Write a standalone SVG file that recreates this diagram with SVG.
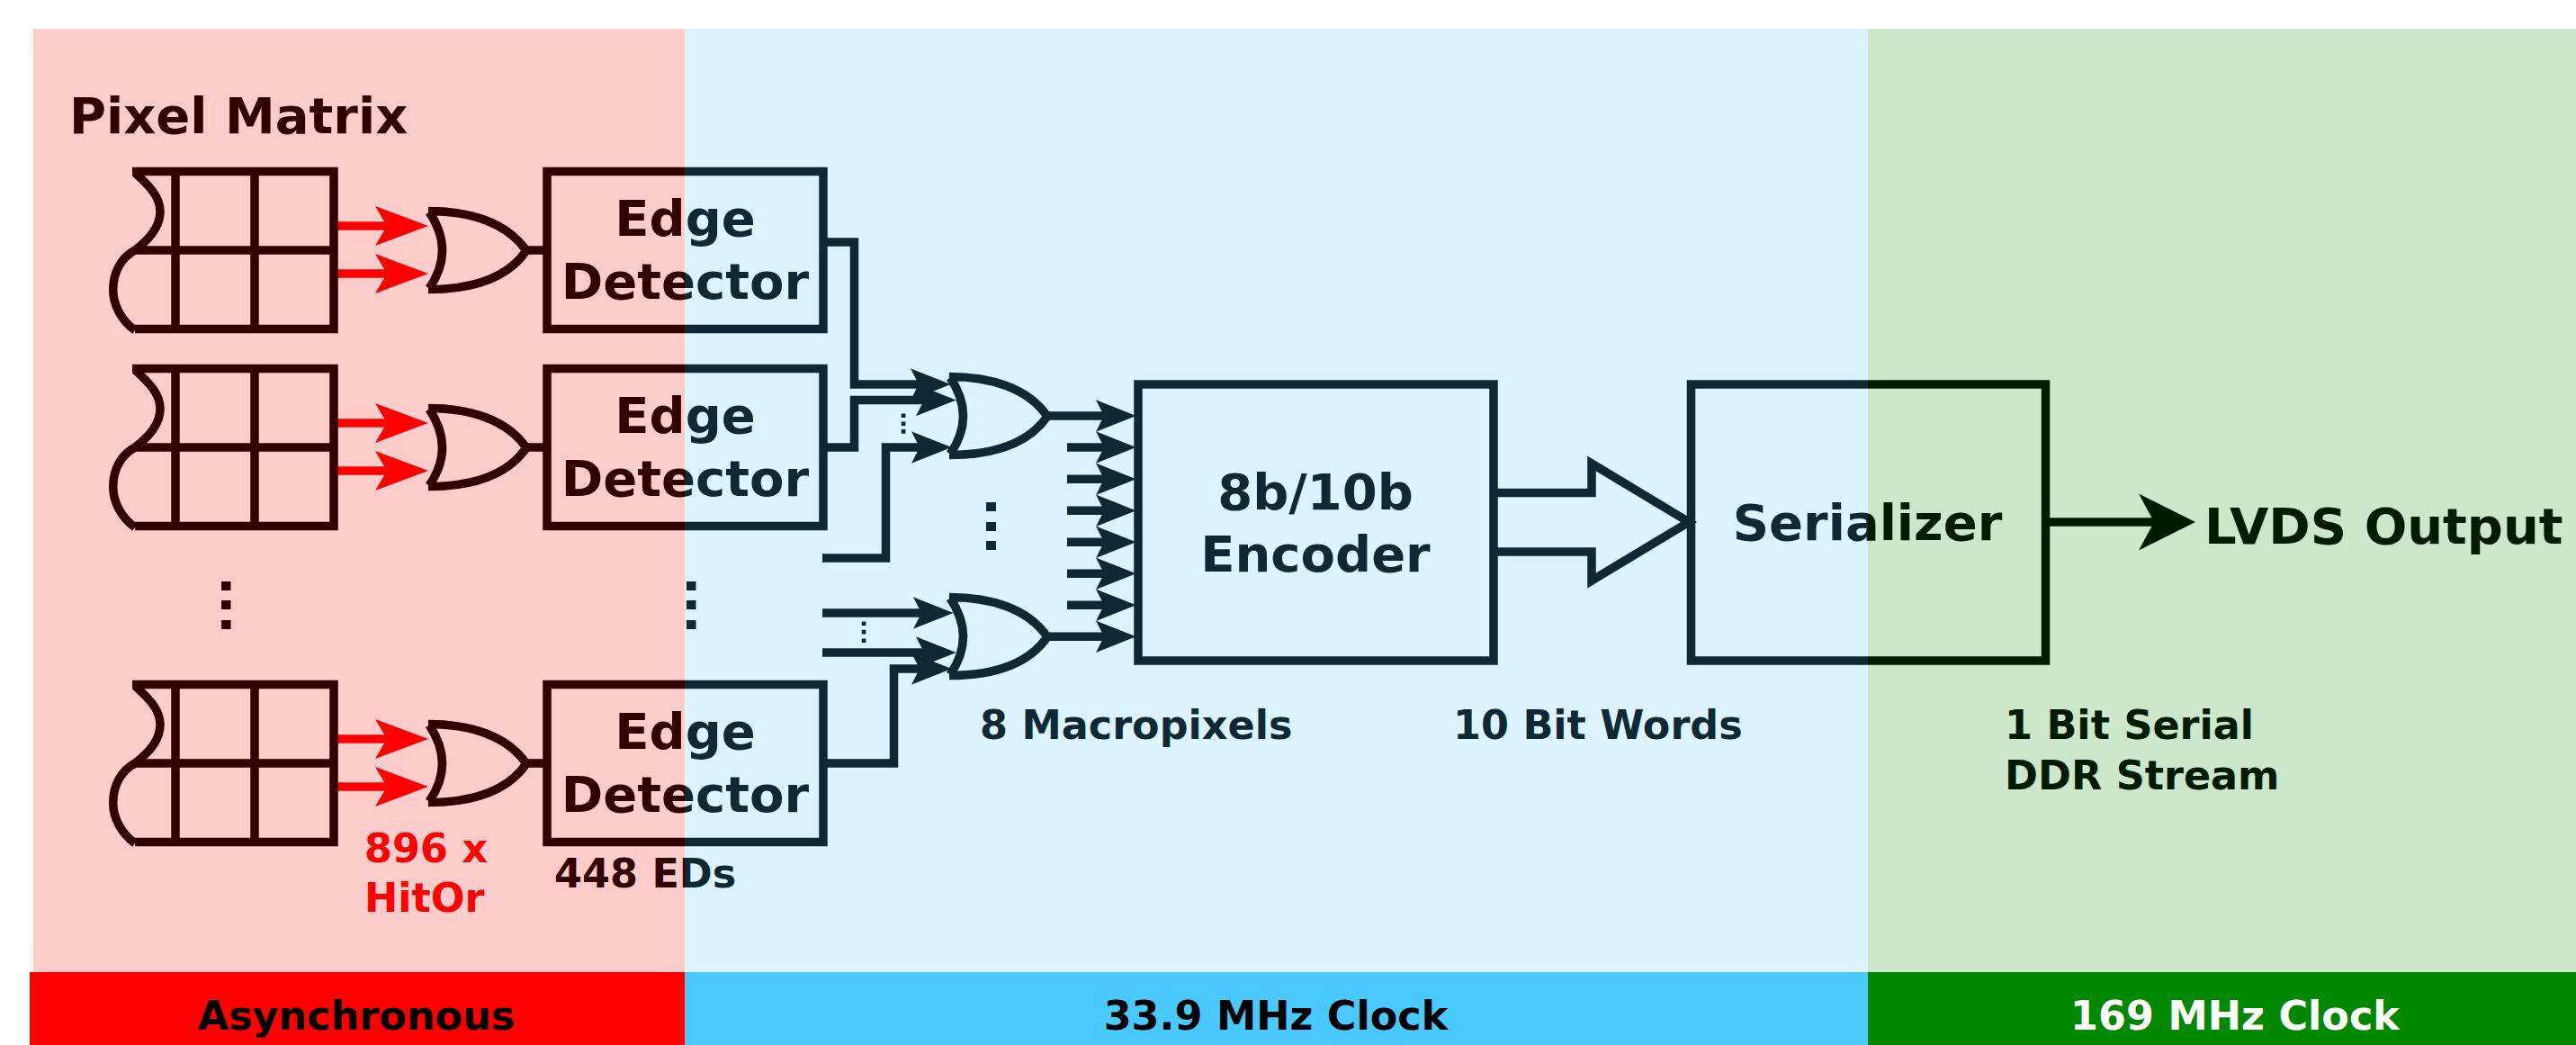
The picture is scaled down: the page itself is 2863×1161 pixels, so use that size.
<svg xmlns="http://www.w3.org/2000/svg" xmlns:xlink="http://www.w3.org/1999/xlink" width="2863" height="1161" viewBox="0 0 2863 1161">
<style>
text{font-family:"DejaVu Sans",sans-serif;font-weight:bold;fill:#000}
.big{font-size:56px}
.mid{font-size:44.500px}
.c{text-anchor:middle}
.red{fill:#f00}
.w{fill:none;stroke:#000;stroke-width:9.500;stroke-linejoin:miter}
.box{fill:none;stroke:#000;stroke-width:9.500}
.ar{marker-end:url(#ah)}
.rw{fill:none;stroke:#f00;stroke-width:9.500;marker-end:url(#rh)}
.ov{opacity:.2}
</style>
<defs>
<marker id="ah" markerUnits="userSpaceOnUse" markerWidth="44.700" markerHeight="35.400" viewBox="0 0 44.700 35.400" refX="13" refY="17.700" orient="auto"><path d="M0 0L44.700 17.700L0 35.400L9 17.700Z" fill="#000"/></marker>
<marker id="rh" markerUnits="userSpaceOnUse" markerWidth="59" markerHeight="44" viewBox="0 0 59 44" refX="18" refY="22" orient="auto"><path d="M0 0L59 22L0 44L13 22Z" fill="#f00"/></marker>
<marker id="oh" markerUnits="userSpaceOnUse" markerWidth="63" markerHeight="63" viewBox="0 0 63 63" refX="23" refY="31.500" orient="auto"><path d="M0 0L63 31.500L0 63L17 31.500Z" fill="#000"/></marker>
<path id="or" class="w" d="M-1 0C44 0 86 12 108 44C86 76 44 87 -1 87M0 1Q29 44 0 86"/>
<g id="matrix">
<path class="box" d="M147 4.500H371V179.500H150M150 92H371M195 4.500V179.500M283 4.500V179.500"/>
<path class="w" d="M150 6C168 22 178 34 178 49C178 66 166 80 150 92C135 100 125.700 116 125.700 136C125.700 153 135 170 150 181"/>
</g>
<g id="ed">
<rect class="box" x="608" y="4.500" width="307" height="175"/>
<text class="big c" x="761.500" y="76">Edge</text>
<text class="big c" x="761.500" y="146">Detector</text>
</g>
</defs>
<g id="connectors">
<path class="rw" d="M371 251H435"/><path class="rw" d="M371 304H435"/>
<path class="rw" d="M371 470H435"/><path class="rw" d="M371 523H435"/>
<path class="rw" d="M371 821H435"/><path class="rw" d="M371 874H435"/>
<path class="w" d="M584 278H606M584 497H606M584 848H606"/>
<path class="w ar" d="M915 269H949.500V427H1025"/>
<path class="w ar" d="M915 497H949.500V444.500H1031"/>
<path class="w ar" d="M914 620H984.500V497H1026"/>
<path class="w ar" d="M914 681H1028"/>
<path class="w ar" d="M914 725H1031"/>
<path class="w ar" d="M915 848H993.500V743H1026"/>
<path class="w ar" d="M1163 462H1231"/>
<path class="w ar" d="M1186 497H1231"/>
<path class="w ar" d="M1186 532.300H1231"/>
<path class="w ar" d="M1186 567.300H1231"/>
<path class="w ar" d="M1186 602.300H1231"/>
<path class="w ar" d="M1186 637.300H1231"/>
<path class="w ar" d="M1186 672.300H1231"/>
<path class="w ar" d="M1163 707.300H1231"/>
<path class="w" d="M1664 547.500H1769V515L1877 580L1769 645V613H1664"/>
<path class="w" style="marker-end:url(#oh)" d="M2277 580H2400"/>
</g>
<g id="pixel-matrix-1"><use href="#matrix" y="186"/></g>
<g id="pixel-matrix-2"><use href="#matrix" y="405"/></g>
<g id="pixel-matrix-3"><use href="#matrix" y="756"/></g>
<g id="or-1"><use href="#or" x="477" y="234.500"/></g>
<g id="or-2"><use href="#or" x="477" y="453.500"/></g>
<g id="or-3"><use href="#or" x="477" y="804.500"/></g>
<g id="edge-detector-1"><use href="#ed" y="186"/></g>
<g id="edge-detector-2"><use href="#ed" y="405"/></g>
<g id="edge-detector-3"><use href="#ed" y="756"/></g>
<g id="or-a"><use href="#or" x="1056" y="418.500"/></g>
<g id="or-b"><use href="#or" x="1056" y="663.500"/></g>
<g id="encoder">
<rect class="box" x="1265" y="427" width="395" height="307"/>
<text class="big c" x="1462" y="566">8b/10b</text>
<text class="big c" x="1462" y="635">Encoder</text>
</g>
<g id="serializer">
<rect class="box" x="1879.500" y="427" width="394" height="307"/>
<text class="big c" x="2075.500" y="600">Serializer</text>
</g>
<g id="dots">
<path d="M246 646h10.500v10h-10.500zM246 667h10.500v10h-10.500zM246 689h10.500v10h-10.500zM763 646h10.500v10h-10.500zM763 667h10.500v10h-10.500zM763 689h10.500v10h-10.500zM1096 558h11v10h-11zM1096 580h11v10h-11zM1096 601h11v10h-11z"/>
<path d="M1001.700 459.400h4.700v4.700h-4.700zM1001.700 468.400h4.700v4.700h-4.700zM1001.700 477h4.700v4.700h-4.700zM957.700 690.400h4.700v4.700h-4.700zM957.700 699.700h4.700v4.700h-4.700zM957.700 709.400h4.700v4.700h-4.700z"/>
</g>
<g id="labels">
<text class="big" x="77" y="148">Pixel Matrix</text>
<text class="mid red" x="405" y="958">896 x</text>
<text class="mid red" x="405" y="1013">HitOr</text>
<text class="mid" x="616" y="986">448 EDs</text>
<text class="mid" x="1089" y="821">8 Macropixels</text>
<text class="mid" x="1615" y="821">10 Bit Words</text>
<text class="mid" x="2228" y="821">1 Bit Serial</text>
<text class="mid" x="2228" y="877">DDR Stream</text>
<text class="big" x="2450" y="604">LVDS Output</text>
</g>
<g id="zones">
<rect class="ov" x="37" y="32" width="724" height="1048" fill="#f00"/>
<rect class="ov" x="761" y="32" width="1315" height="1048" fill="#4ac9ff"/>
<rect class="ov" x="2076" y="32" width="787" height="1048" fill="#008800"/>
</g>
<g id="bar-async"><rect x="33" y="1080" width="728" height="81" fill="#f00"/><text class="mid c" x="396" y="1144">Asynchronous</text></g>
<g id="bar-339"><rect x="761" y="1080" width="1315" height="81" fill="#4ac9ff"/><text class="mid c" x="1418" y="1144">33.9 MHz Clock</text></g>
<g id="bar-169"><rect x="2076" y="1080" width="787" height="81" fill="#008800"/><text class="mid c" x="2484" y="1144" style="fill:#fff">169 MHz Clock</text></g>
</svg>
